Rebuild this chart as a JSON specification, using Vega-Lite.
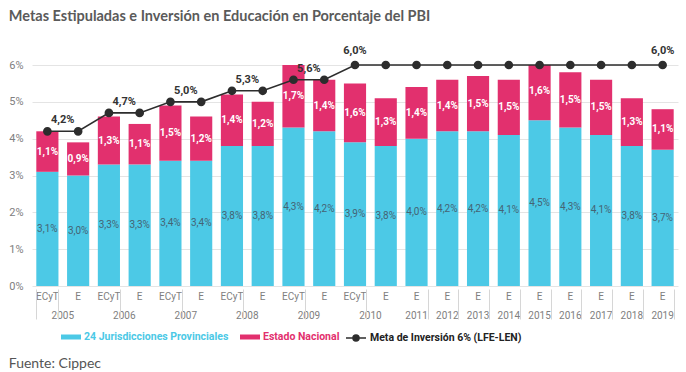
{
  "$schema": "https://vega.github.io/schema/vega-lite/v6.json",
  "padding": {"left": 8, "top": 8, "right": 6, "bottom": 2},
  "title": {"text": "Metas Estipuladas e Inversión en Educación en Porcentaje del PBI", "anchor": "start", "font": "Lato", "fontSize": 14.5, "fontWeight": "bold", "color": "#5a5a5a", "offset": 21},
  "config": {
    "locale": {"number": {"decimal": ",", "thousands": ".", "grouping": [3], "currency": ["", ""]}},
    "view": {"stroke": null},
    "axisY": {"tickCount": 7},
    "legend": {"orient": "none", "direction": "horizontal", "title": null, "labelFont": "Roboto", "labelFontSize": 10.5, "labelFontWeight": "bold", "symbolStrokeWidth": 0, "labelLimit": 300, "labelOffset": 3}
  },
  "resolve": {"legend": {"color": "independent", "fill": "independent", "stroke": "independent"}},
  "vconcat": [
    {
      "width": 646,
      "height": 221,
      "title": {"text": "Fuente: Cippec", "orient": "bottom", "anchor": "start", "font": "Lato", "fontSize": 14, "fontWeight": "normal", "color": "#555555", "offset": 13},
      "data": {"values": [
        {"barra": "2005 ECyT", "anio": "2005", "tipo": "ECyT", "prov": 0.031, "nac": 0.011, "meta": 0.042},
        {"barra": "2005 E", "anio": "2005", "tipo": "E", "prov": 0.030, "nac": 0.009, "meta": 0.042},
        {"barra": "2006 ECyT", "anio": "2006", "tipo": "ECyT", "prov": 0.033, "nac": 0.013, "meta": 0.047},
        {"barra": "2006 E", "anio": "2006", "tipo": "E", "prov": 0.033, "nac": 0.011, "meta": 0.047},
        {"barra": "2007 ECyT", "anio": "2007", "tipo": "ECyT", "prov": 0.034, "nac": 0.015, "meta": 0.050},
        {"barra": "2007 E", "anio": "2007", "tipo": "E", "prov": 0.034, "nac": 0.012, "meta": 0.050},
        {"barra": "2008 ECyT", "anio": "2008", "tipo": "ECyT", "prov": 0.038, "nac": 0.014, "meta": 0.053},
        {"barra": "2008 E", "anio": "2008", "tipo": "E", "prov": 0.038, "nac": 0.012, "meta": 0.053},
        {"barra": "2009 ECyT", "anio": "2009", "tipo": "ECyT", "prov": 0.043, "nac": 0.017, "meta": 0.056},
        {"barra": "2009 E", "anio": "2009", "tipo": "E", "prov": 0.042, "nac": 0.014, "meta": 0.056},
        {"barra": "2010 ECyT", "anio": "2010", "tipo": "ECyT", "prov": 0.039, "nac": 0.016, "meta": 0.060},
        {"barra": "2010 E", "anio": "2010", "tipo": "E", "prov": 0.038, "nac": 0.013, "meta": 0.060},
        {"barra": "2011 E", "anio": "2011", "tipo": "E", "prov": 0.040, "nac": 0.014, "meta": 0.060},
        {"barra": "2012 E", "anio": "2012", "tipo": "E", "prov": 0.042, "nac": 0.014, "meta": 0.060},
        {"barra": "2013 E", "anio": "2013", "tipo": "E", "prov": 0.042, "nac": 0.015, "meta": 0.060},
        {"barra": "2014 E", "anio": "2014", "tipo": "E", "prov": 0.041, "nac": 0.015, "meta": 0.060},
        {"barra": "2015 E", "anio": "2015", "tipo": "E", "prov": 0.045, "nac": 0.016, "meta": 0.060},
        {"barra": "2016 E", "anio": "2016", "tipo": "E", "prov": 0.043, "nac": 0.015, "meta": 0.060},
        {"barra": "2017 E", "anio": "2017", "tipo": "E", "prov": 0.041, "nac": 0.015, "meta": 0.060},
        {"barra": "2018 E", "anio": "2018", "tipo": "E", "prov": 0.038, "nac": 0.013, "meta": 0.060},
        {"barra": "2019 E", "anio": "2019", "tipo": "E", "prov": 0.037, "nac": 0.011, "meta": 0.060}
      ]},
      "resolve": {"axis": {"x": "independent"}},
      "layer": [
        {
          "transform": [
            {"fold": ["prov", "nac"], "as": ["serie", "valor"]},
            {"stack": "valor", "groupby": ["barra"], "sort": [{"field": "serie", "order": "descending"}], "as": ["v0", "v1"]},
            {"filter": "datum.serie == 'prov'"}
          ],
          "mark": {"type": "bar", "clip": true},
          "encoding": {
            "x": {"field": "barra", "type": "nominal", "sort": null, "title": null,
              "scale": {"paddingInner": 0.28, "paddingOuter": 0.14},
              "axis": {"orient": "bottom", "labelExpr": "test(/ECyT/, datum.value) ? 'ECyT' : 'E'", "labelAngle": 0, "labelFont": "Roboto", "labelFontSize": 10, "labelColor": "#808080", "labelPadding": 5, "domain": false, "ticks": false}},
            "y": {"field": "v1", "type": "quantitative", "title": null,
              "scale": {"domain": [0, 0.06], "clamp": true},
              "axis": {"values": [0, 0.01, 0.02, 0.03, 0.04, 0.05, 0.06], "tickCount": 7, "format": ".0%", "domain": false, "ticks": false, "labelFont": "Roboto", "labelFontSize": 11, "labelColor": "#808080", "labelPadding": 9, "gridColor": "#e4e4e4"}},
            "y2": {"field": "v0"},
            "color": {"datum": "24 Jurisdicciones Provinciales", "scale": {"range": ["#4cc9e6"]}, "legend": {"labelColor": "#4cc9e6", "symbolType": "M-1,-0.25H1V0.25H-1Z", "symbolSize": 400, "legendX": 29, "legendY": 262}}
          }
        },
        {
          "transform": [
            {"fold": ["prov", "nac"], "as": ["serie", "valor"]},
            {"stack": "valor", "groupby": ["barra"], "sort": [{"field": "serie", "order": "descending"}], "as": ["v0", "v1"]},
            {"filter": "datum.serie == 'nac'"}
          ],
          "mark": {"type": "bar", "clip": true},
          "encoding": {
            "x": {"field": "barra", "type": "nominal", "sort": null, "title": null,
              "axis": {"orient": "bottom", "offset": 19, "labelExpr": "test(/201[1-9]/, datum.value) ? slice(datum.value, 0, 4) : ''", "labelAngle": 0, "labelFont": "Roboto", "labelFontSize": 10, "labelColor": "#808080", "labelPadding": 5, "domain": false, "ticks": false}},
            "y": {"field": "v1", "type": "quantitative", "title": null},
            "y2": {"field": "v0"},
            "fill": {"datum": "Estado Nacional", "scale": {"range": ["#e2306e"]}, "legend": {"labelColor": "#e2306e", "symbolType": "M-1,-0.25H1V0.25H-1Z", "symbolSize": 400, "legendX": 208, "legendY": 262}}
          }
        },
        {
          "transform": [
            {"fold": ["prov", "nac"], "as": ["serie", "valor"]},
            {"stack": "valor", "groupby": ["barra"], "sort": [{"field": "serie", "order": "descending"}], "as": ["v0", "v1"]},
            {"filter": "datum.serie == 'prov'"},
            {"calculate": "(datum.v0 + datum.v1) / 2", "as": "medio"}
          ],
          "mark": {"type": "text", "font": "Roboto", "fontSize": 10, "color": "#456474"},
          "encoding": {
            "x": {"field": "barra", "type": "nominal", "sort": null, "title": null,
              "axis": {"orient": "bottom", "offset": 19, "labelExpr": "test(/ECyT/, datum.value) ? slice(datum.value, 0, 4) : ''", "labelAngle": 0, "labelFont": "Roboto", "labelFontSize": 10, "labelColor": "#808080", "labelPadding": 5, "domain": false, "ticks": false, "labelOffset": 15.4}},
            "y": {"field": "medio", "type": "quantitative", "title": null},
            "text": {"field": "valor", "type": "quantitative", "format": ".1%"}
          }
        },
        {
          "transform": [
            {"fold": ["prov", "nac"], "as": ["serie", "valor"]},
            {"stack": "valor", "groupby": ["barra"], "sort": [{"field": "serie", "order": "descending"}], "as": ["v0", "v1"]},
            {"filter": "datum.serie == 'nac'"},
            {"calculate": "(datum.v0 + datum.v1) / 2", "as": "medio"}
          ],
          "mark": {"type": "text", "font": "Roboto", "fontSize": 10, "fontWeight": "bold", "color": "#ffffff"},
          "encoding": {
            "x": {"field": "barra", "type": "nominal", "sort": null, "title": null,
              "axis": {"orient": "bottom", "offset": 3, "labels": false, "domain": false, "tickBand": "extent", "tickSize": 30, "tickColor": "#d6d6d6", "tickWidth": 1,
                "tickOpacity": {"condition": {"test": "!isValid(datum.value) || test(/ECyT|201[1-9]/, datum.value)", "value": 1}, "value": 0}}},
            "y": {"field": "medio", "type": "quantitative", "title": null},
            "text": {"field": "valor", "type": "quantitative", "format": ".1%"}
          }
        },
        {
          "mark": {"type": "line", "color": "#2d2d2d", "strokeWidth": 1.6},
          "encoding": {
            "x": {"field": "barra", "type": "nominal", "sort": null, "axis": null},
            "y": {"field": "meta", "type": "quantitative", "title": null}
          }
        },
        {
          "mark": {"type": "point", "filled": true, "fill": "#2d2d2d", "size": 45, "opacity": 1},
          "encoding": {
            "x": {"field": "barra", "type": "nominal", "sort": null, "axis": null},
            "y": {"field": "meta", "type": "quantitative", "title": null},
            "stroke": {"datum": "Meta de Inversión 6% (LFE-LEN)", "scale": {"range": ["#2d2d2d"]}, "legend": {"labelColor": "#222222", "symbolType": "M-1,0H1M0.3,0A0.3,0.3,0,1,1,-0.3,0A0.3,0.3,0,1,1,0.3,0Z", "symbolSize": 400, "symbolStrokeWidth": 1.5, "symbolFillColor": "#2d2d2d", "legendX": 313, "legendY": 262}}
          }
        },
        {
          "transform": [{"filter": "datum.tipo == 'ECyT' && datum.anio < '2010'"}],
          "mark": {"type": "text", "font": "Roboto", "fontSize": 11, "fontWeight": "bold", "color": "#333333", "dy": -11},
          "encoding": {
            "x": {"field": "barra", "type": "nominal", "sort": null, "bandPosition": 1.194, "axis": null},
            "y": {"field": "meta", "type": "quantitative", "title": null},
            "text": {"field": "meta", "type": "quantitative", "format": ".1%"}
          }
        },
        {
          "transform": [{"filter": "datum.barra == '2010 ECyT' || datum.barra == '2019 E'"}],
          "mark": {"type": "text", "font": "Roboto", "fontSize": 11, "fontWeight": "bold", "color": "#333333", "dy": -14},
          "encoding": {
            "x": {"field": "barra", "type": "nominal", "sort": null, "axis": null},
            "y": {"field": "meta", "type": "quantitative", "title": null},
            "text": {"field": "meta", "type": "quantitative", "format": ".1%"}
          }
        }
      ]
    }
  ]
}
